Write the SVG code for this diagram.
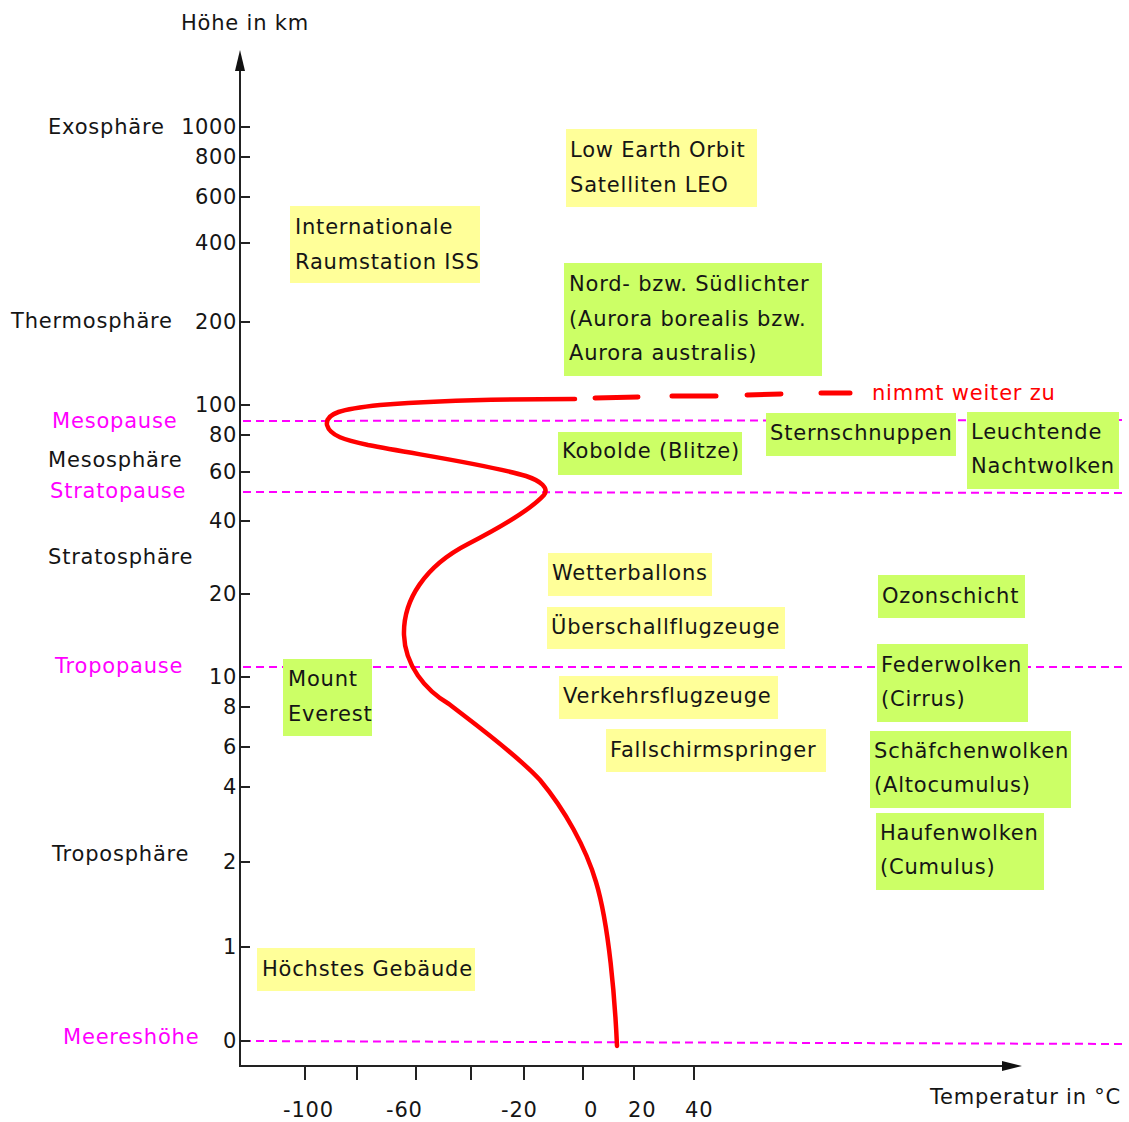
<svg xmlns="http://www.w3.org/2000/svg" width="1129" height="1122" viewBox="0 0 1129 1122">
<style>
text{font-family:"DejaVu Sans","Liberation Sans",sans-serif;font-size:21px;fill:#151515;letter-spacing:0.8px}
.r{text-anchor:end;letter-spacing:0.6px}
.m{fill:#ff00ff}
.y{fill:#ffff99}
.g{fill:#ccff66}
.axis{stroke:#222;stroke-width:2;fill:none}
.pause{stroke:#ff00ff;stroke-width:2;stroke-dasharray:8 5;fill:none}
.curve{stroke:#ff0000;stroke-width:4.5;fill:none;stroke-linecap:round;stroke-linejoin:round}
.dash{stroke:#ff0000;stroke-width:5;stroke-linecap:round;fill:none}
</style>
<rect width="1129" height="1122" fill="#ffffff"/>

<g id="pauselines">
<line class="pause" x1="243" y1="421" x2="1125" y2="420"/>
<line class="pause" x1="243" y1="492" x2="1125" y2="493"/>
<line class="pause" x1="243" y1="667" x2="1125" y2="667"/>
<line class="pause" x1="243" y1="1041" x2="1125" y2="1044"/>
</g>

<g id="axes">
<line class="axis" x1="240" y1="68" x2="240" y2="1066"/>
<polygon points="240,50 235,71 245,71" fill="#111"/>
<line class="axis" x1="239" y1="1066" x2="1004" y2="1066"/>
<polygon points="1022,1066 1002,1061 1002,1071" fill="#111"/>
<path class="axis" d="M240 127h10M240 157h10M240 197h10M240 243h10M240 322h10M240 405h10M240 435h10M240 472h10M240 521h10M240 594h10M240 677h10M240 707h10M240 747h10M240 787h10M240 862h10M240 947h10M240 1041h10"/>
<path class="axis" d="M305 1066v14M357 1066v14M416 1066v14M471 1066v14M524 1066v14M583 1066v14M634 1066v14M694 1066v14"/>
</g>

<g id="axis-labels">
<text x="181" y="30">Höhe in km</text>
<text class="r" x="237" y="134">1000</text>
<text class="r" x="237" y="164">800</text>
<text class="r" x="237" y="204">600</text>
<text class="r" x="237" y="250">400</text>
<text class="r" x="237" y="329">200</text>
<text class="r" x="237" y="412">100</text>
<text class="r" x="237" y="442">80</text>
<text class="r" x="237" y="479">60</text>
<text class="r" x="237" y="528">40</text>
<text class="r" x="237" y="601">20</text>
<text class="r" x="237" y="684">10</text>
<text class="r" x="237" y="714">8</text>
<text class="r" x="237" y="754">6</text>
<text class="r" x="237" y="794">4</text>
<text class="r" x="237" y="869">2</text>
<text class="r" x="237" y="954">1</text>
<text class="r" x="237" y="1048">0</text>
<text x="48" y="134">Exosphäre</text>
<text x="11" y="328">Thermosphäre</text>
<text class="m" x="52" y="428">Mesopause</text>
<text x="48" y="467">Mesosphäre</text>
<text class="m" x="50" y="498">Stratopause</text>
<text x="48" y="564">Stratosphäre</text>
<text class="m" x="55" y="673">Tropopause</text>
<text x="52" y="861">Troposphäre</text>
<text class="m" x="63" y="1044">Meereshöhe</text>
<text x="283" y="1117">-100</text>
<text x="386" y="1117">-60</text>
<text x="501" y="1117">-20</text>
<text x="584" y="1117">0</text>
<text x="628" y="1117">20</text>
<text x="685" y="1117">40</text>
<text x="930" y="1104">Temperatur in °C</text>
</g>

<g id="connectors">
<path class="curve" d="M617 1046 C615 1000 609 925 596 882 C586 848 565 810 540 780 C515 753 472 722 449 704 C425 690 405 665 404 635 C403 600 425 566 468 544 C505 525 533 507 544 495 C549 488 541 481 526 476 C490 465 420 455 368 445 C345 440 330 436 327 425 C325 413 342 409 380 405 C430 401 500 399 575 399"/>
<path class="dash" d="M595 398L638 397M672 396L716 396M747 395L781 394M821 393L850 393"/>
<text x="872" y="400" style="fill:#ff0000">nimmt weiter zu</text>
</g>

<g id="leo"><rect class="y" x="566" y="129" width="191" height="78"/><text x="570" y="157">Low Earth Orbit</text><text x="570" y="192">Satelliten LEO</text></g>
<g id="iss"><rect class="y" x="290" y="206" width="190" height="77"/><text x="295" y="234">Internationale</text><text x="295" y="269">Raumstation ISS</text></g>
<g id="aurora"><rect class="g" x="564" y="263" width="258" height="113"/><text x="569" y="291">Nord- bzw. Südlichter</text><text x="569" y="326">(Aurora borealis bzw.</text><text x="569" y="360">Aurora australis)</text></g>
<g id="kobolde"><rect class="g" x="558" y="432" width="184" height="43"/><text x="562" y="458">Kobolde (Blitze)</text></g>
<g id="sternschnuppen"><rect class="g" x="766" y="413" width="190" height="43"/><text x="770" y="440">Sternschnuppen</text></g>
<g id="nachtwolken"><rect class="g" x="967" y="412" width="152" height="77"/><text x="971" y="439">Leuchtende</text><text x="971" y="473">Nachtwolken</text></g>
<g id="wetterballons"><rect class="y" x="548" y="553" width="164" height="43"/><text x="552" y="580">Wetterballons</text></g>
<g id="ueberschall"><rect class="y" x="547" y="607" width="238" height="42"/><text x="551" y="634">Überschallflugzeuge</text></g>
<g id="verkehr"><rect class="y" x="559" y="676" width="219" height="43"/><text x="563" y="703">Verkehrsflugzeuge</text></g>
<g id="fallschirm"><rect class="y" x="606" y="729" width="220" height="43"/><text x="610" y="757">Fallschirmspringer</text></g>
<g id="ozon"><rect class="g" x="878" y="575" width="147" height="43"/><text x="882" y="603">Ozonschicht</text></g>
<g id="cirrus"><rect class="g" x="877" y="644" width="151" height="78"/><text x="881" y="672">Federwolken</text><text x="881" y="706">(Cirrus)</text></g>
<g id="altocumulus"><rect class="g" x="870" y="731" width="201" height="77"/><text x="874" y="758">Schäfchenwolken</text><text x="874" y="792">(Altocumulus)</text></g>
<g id="cumulus"><rect class="g" x="876" y="813" width="168" height="77"/><text x="880" y="840">Haufenwolken</text><text x="880" y="874">(Cumulus)</text></g>
<g id="everest"><rect class="g" x="283" y="659" width="89" height="77"/><text x="288" y="686">Mount</text><text x="288" y="721">Everest</text></g>
<g id="gebaeude"><rect class="y" x="257" y="948" width="218" height="43"/><text x="262" y="976">Höchstes Gebäude</text></g>
</svg>
